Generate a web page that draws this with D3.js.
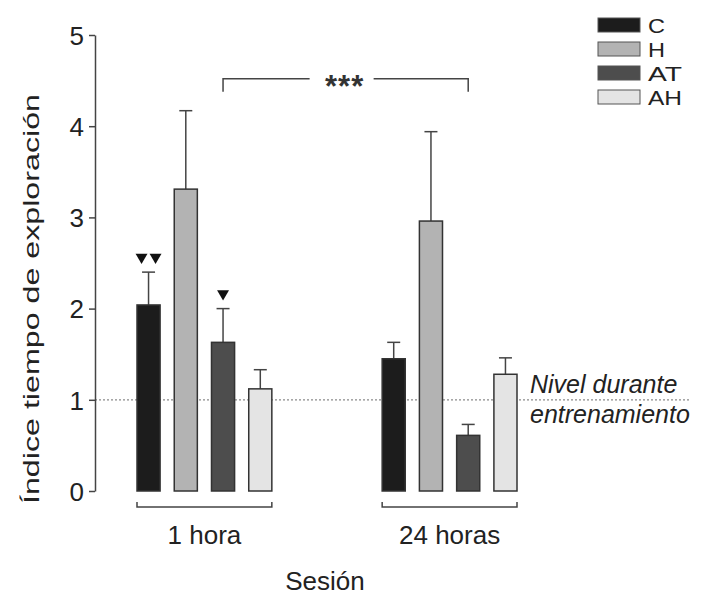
<!DOCTYPE html>
<html>
<head>
<meta charset="utf-8">
<script src="https://cdn.jsdelivr.net/npm/d3@7"></script>
<style>
  body { margin: 0; background: #fff; }
  svg { display: block; font-family: "Liberation Sans", Arial, sans-serif; }
  .axis text { font-size: 26px; fill: #222; }
  .axis path, .axis line { stroke: #444; stroke-width: 1.5; }
</style>
</head>
<body>
<svg width="703" height="595"></svg>
<script>
// data
const groups = ["1 hora", "24 horas"];
const series = ["C", "H", "AT", "AH"];
const colors = ["#1c1c1c", "#b3b3b3", "#4d4d4d", "#e4e4e4"];
const means1h = [2.04, 3.31, 1.63, 1.12];
const sem1h = [0.36, 0.86, 0.37, 0.21];
const means24h = [1.45, 2.96, 0.61, 1.28];
const sem24h = [0.18, 0.98, 0.12, 0.18];
const yTicks = [0, 1, 2, 3, 4, 5];
const markers = [
  { group: "1 hora", serie: "C", count: 2 },
  { group: "1 hora", serie: "AT", count: 1 }
];
const sig = { from: ["1 hora", "AT"], to: ["24 horas", "AT"], level: 4.52, label: "***" };
const refLevel = 1;
const refLabel = ["Nivel durante", "entrenamiento"];

const rows = [];
groups.forEach((g, gi) => {
  const m = gi === 0 ? means1h : means24h;
  const e = gi === 0 ? sem1h : sem24h;
  series.forEach((s, si) => rows.push({ group: g, serie: s, value: m[si], err: e[si], color: colors[si] }));
});

const svg = d3.select("svg");
const axisX = 95;

const y = d3.scaleLinear().domain([0, 5]).range([491, 35]);
const xg = d3.scaleBand().domain(groups).range([137, 517]).paddingInner(0.45);
const xs = d3.scaleBand().domain(series).range([0, xg.bandwidth()]).paddingInner(0.38);
const cx = (g, s) => xg(g) + xs(s) + xs.bandwidth() / 2;

// reference line (behind bars)
svg.append("line")
  .attr("x1", axisX).attr("x2", 690)
  .attr("y1", y(refLevel)).attr("y2", y(refLevel))
  .attr("stroke", "#8a8a8a").attr("stroke-width", 1.3)
  .attr("stroke-dasharray", "2,2");

// y axis
svg.append("g")
  .attr("class", "axis")
  .attr("transform", `translate(${axisX},0)`)
  .call(d3.axisLeft(y).tickValues(yTicks).tickSize(6).tickSizeOuter(0).tickPadding(5).tickFormat(d3.format("d")))
  .call(g => g.selectAll("text").attr("dy", "0.36em"));

// error bars
const eb = svg.append("g").attr("stroke", "#444").attr("stroke-width", 1.5);
rows.forEach(d => {
  const x = cx(d.group, d.serie);
  eb.append("line").attr("x1", x).attr("x2", x).attr("y1", y(d.value)).attr("y2", y(d.value + d.err));
  eb.append("line").attr("x1", x - 6.5).attr("x2", x + 6.5).attr("y1", y(d.value + d.err)).attr("y2", y(d.value + d.err));
});

// bars
svg.append("g").selectAll("rect")
  .data(rows)
  .join("rect")
  .attr("x", d => xg(d.group) + xs(d.serie))
  .attr("y", d => y(d.value))
  .attr("width", xs.bandwidth())
  .attr("height", d => y(0) - y(d.value))
  .attr("fill", d => d.color)
  .attr("stroke", "#333")
  .attr("stroke-width", 1.5);

// triangles
const tri = d3.symbol(d3.symbolTriangle, 62);
markers.forEach(m => {
  const d = rows.find(r => r.group === m.group && r.serie === m.serie);
  const top = y(d.value + d.err) - 15;
  const x0 = cx(m.group, m.serie);
  for (let i = 0; i < m.count; i++) {
    const off = (i - (m.count - 1) / 2) * 14;
    svg.append("path")
      .attr("d", tri())
      .attr("transform", `translate(${x0 + off},${top}) rotate(180)`)
      .attr("fill", "#111");
  }
});

// group brackets and labels
groups.forEach(g => {
  const x0 = xg(g), x1 = xg(g) + xg.bandwidth();
  svg.append("path")
    .attr("d", `M${x0},502V507H${x1}V502`)
    .attr("fill", "none").attr("stroke", "#444").attr("stroke-width", 1.5);
  svg.append("text")
    .attr("x", (x0 + x1) / 2).attr("y", 544)
    .attr("text-anchor", "middle")
    .attr("font-size", 26).attr("fill", "#222")
    .text(g);
});

// significance bracket
const sx0 = cx(sig.from[0], sig.from[1]);
const sx1 = cx(sig.to[0], sig.to[1]);
const sy = y(sig.level);
const smid = (sx0 + sx1) / 2 - 3;
svg.append("path")
  .attr("d", `M${sx0},${sy + 13}V${sy}H${smid - 33}M${smid + 31},${sy}H${sx1}V${sy + 13}`)
  .attr("fill", "none").attr("stroke", "#444").attr("stroke-width", 1.5);
svg.append("text")
  .attr("x", smid + 2).attr("y", sy + 18)
  .attr("text-anchor", "middle")
  .attr("font-size", 31).attr("font-weight", "bold").attr("letter-spacing", 1).attr("fill", "#333")
  .text(sig.label);

// reference label
svg.append("g").selectAll("text")
  .data(refLabel)
  .join("text")
  .attr("x", 530)
  .attr("y", (d, i) => 393 + i * 30)
  .attr("font-size", 25).attr("font-style", "italic").attr("fill", "#222")
  .text(d => d);

// legend
const legend = svg.append("g").selectAll("g")
  .data(series)
  .join("g")
  .attr("transform", (d, i) => `translate(598,${18 + i * 24})`);
legend.append("rect")
  .attr("width", 42).attr("height", 14)
  .attr("fill", (d, i) => colors[i])
  .attr("stroke", "#555").attr("stroke-width", 1);
legend.append("text")
  .attr("x", 50).attr("y", 15)
  .attr("font-size", 21).attr("fill", "#222")
  .attr("textLength", d => d.length * 17).attr("lengthAdjust", "spacingAndGlyphs")
  .text(d => d);

// axis titles
svg.append("text")
  .attr("x", 325).attr("y", 590)
  .attr("text-anchor", "middle")
  .attr("font-size", 26).attr("fill", "#222")
  .text("Sesión");

svg.append("text")
  .attr("transform", "translate(39,299) rotate(-90)")
  .attr("text-anchor", "middle")
  .attr("font-size", 22).attr("fill", "#222")
  .attr("textLength", 410).attr("lengthAdjust", "spacingAndGlyphs")
  .text("Índice tiempo de exploración");
</script>
</body>
</html>
